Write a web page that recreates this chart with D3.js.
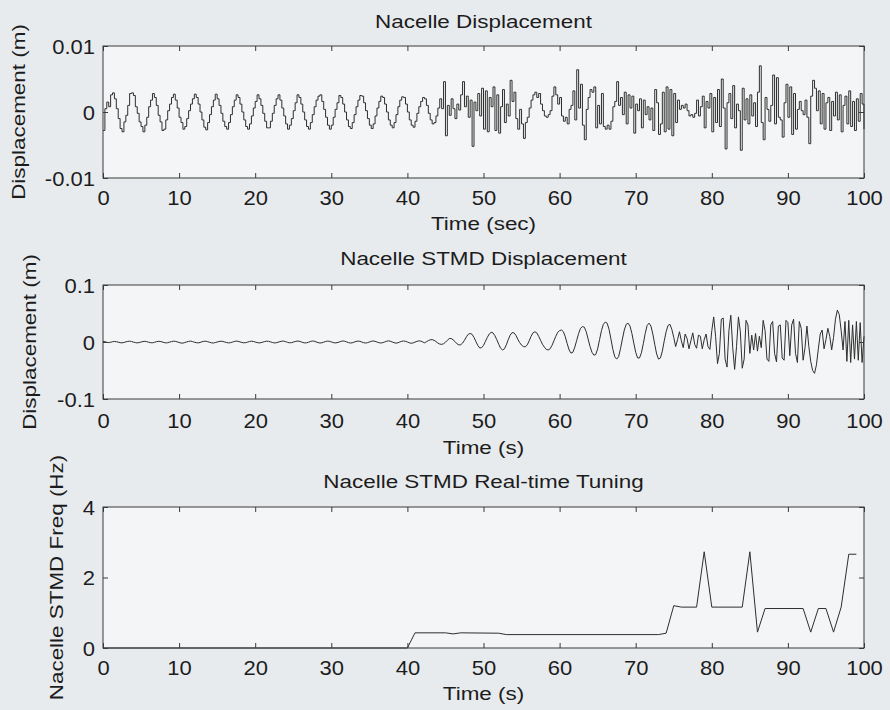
<!DOCTYPE html>
<html>
<head>
<meta charset="utf-8">
<script src="https://cdn.jsdelivr.net/npm/d3@7"></script>
<style>
  html, body { margin: 0; padding: 0; background: #e8ebee; }
  svg { display: block; }
  text { font-family: "Liberation Sans", Arial, Helvetica, sans-serif; fill: #1c1c1c; }
</style>
</head>
<body>
<svg id="chart" width="890" height="710"></svg>
<script>
// ---- data -----------------------------------------------------------------
// Sample interval of the two displacement records (s)
const timeStep = 0.25;

// Nacelle displacement (mm), one value every 0.25 s from 0 to 100 s
const nacelleDispMm = [
  -2.8, 0.5, 1.5, 0.8, 2.6, 2.9, 2.0, 0.5, -1.0, -2.5, -3.0, -1.5, -0.5, 1.0, 2.8, 2.9, 2.5, 0.8, -0.2, -1.5,
  -2.2, -3.0, -2.0, -0.8, 0.8, 1.8, 2.8, 2.2, 1.0, -0.5, -1.5, -2.8, -2.6, -1.2, 0.2, 1.2, 2.2, 2.7, 1.8, 0.6,
  -0.8, -1.6, -2.6, -2.2, -1.0, 0.2, 1.2, 2.0, 2.7, 2.2, 1.2, 0.0, -1.2, -2.3, -2.7, -1.6, -0.4, 0.8, 1.8, 2.7,
  2.0, 1.0, -0.2, -1.4, -2.2, -2.6, -1.6, -0.4, 0.8, 1.8, 2.6, 2.2, 1.2, 0.0, -1.2, -2.2, -2.6, -1.8, -0.6, 0.6,
  1.6, 2.6, 2.0, 1.0, -0.2, -1.4, -2.4, -2.4, -1.4, -0.2, 1.0, 2.0, 2.6, 1.8, 0.6, -0.6, -1.8, -2.6, -2.0, -1.0,
  0.2, 1.4, 2.6, 2.2, 1.2, 0.0, -1.2, -2.2, -2.6, -1.6, -0.4, 0.8, 1.8, 2.4, 2.6, 1.6, 0.4, -0.8, -2.0, -2.6,
  -2.0, -0.8, 0.4, 1.4, 2.5, 2.2, 1.2, 0.0, -1.2, -2.2, -2.5, -1.6, -0.4, 0.8, 1.8, 2.5, 2.4, 1.4, 0.2, -1.0,
  -2.0, -2.5, -1.8, -0.6, 0.6, 1.6, 2.4, 2.2, 1.2, 0.0, -1.2, -2.0, -2.4, -1.6, -0.4, 0.8, 1.8, 2.3, 2.2, 1.2,
  0.0, -1.2, -2.0, -2.3, -1.4, -0.2, 0.8, 1.6, 2.2, 2.0, 1.0, -0.2, -1.2, -1.8, -1.6, -0.6, 0.6, 2.0, 0.5, 4.6,
  -3.6, 1.0, -0.5, 2.0, 0.5, -1.0, 1.2, 0.3, 2.6, 4.6, 0.8, 2.4, -0.8, 1.8, -5.2, 1.5, 0.2, 2.8, -0.6, 3.6,
  -2.6, 3.2, -3.0, 2.2, 0.8, 3.8, -2.8, 2.6, -3.2, 0.8, 3.4, -1.6, 1.2, -0.6, 4.8, 1.6, 3.0, -1.0, -2.6, 0.4,
  -1.8, -4.0, -1.6, -0.8, 0.6, 1.8, 2.6, 3.0, 2.2, 2.8, 1.2, 0.2, -0.6, -0.8, -0.4, 0.2, 2.4, 3.8, 2.6, 1.2,
  2.2, -0.6, -1.4, -0.8, -1.8, 0.4, 1.0, 3.2, -1.2, 6.4, 0.6, 4.2, -2.0, -4.2, 0.4, 2.2, 3.4, 3.0, 3.8, -2.4,
  1.0, -1.8, 2.8, -2.2, -2.6, -2.0, -2.6, -1.4, 0.8, 1.6, 4.6, 1.0, 2.2, -0.4, 3.0, -1.8, 2.6, 0.6, 2.4, -3.2,
  1.2, 0.2, 2.0, -2.4, 1.8, -0.4, 0.8, -1.2, 0.6, -2.8, 3.4, 1.4, -3.4, -1.8, 3.0, -3.0, 3.8, -2.6, 3.4, -3.6,
  2.8, -1.6, 1.8, 0.4, 1.0, 0.6, 1.2, 0.2, -0.6, -0.4, -0.8, -0.2, 1.8, -0.6, 0.8, 2.4, -2.4, 1.6, 0.6, 2.8,
  -3.0, 2.2, -1.6, 3.4, -2.2, 5.0, 0.6, -5.6, 1.4, 2.8, -1.0, 4.0, -2.4, 1.2, 0.2, -5.8, 3.6, -1.2, 2.0, -1.8,
  2.6, -0.6, 1.4, -2.2, 3.0, 7.0, -1.6, -4.2, 2.2, 0.4, -1.4, 1.0, 5.6, -1.8, 5.2, -0.8, -1.2, -3.8, 1.4, 4.2,
  -0.8, 3.8, -3.4, 2.8, -2.6, 0.4, 1.6, 0.2, -0.4, 1.8, -0.8, -4.8, 2.4, 4.8, 3.6, 0.2, 3.2, -1.8, 2.8, -2.6,
  1.4, 2.2, -2.8, 1.6, -0.6, 3.0, -1.2, 2.6, -3.0, 1.0, 2.4, -1.8, 3.2, -2.2, 1.6, -2.8, 2.0, -1.4, 2.8, 1.2, -2.6
];

// Nacelle STMD displacement (mm), one value every 0.25 s from 0 to 100 s
const stmdDispMm = [
  1.0, 0.5, -0.5, -1.0, -0.5, 0.5, 1.0, 0.5, -0.2, -1.2, -1.5, -0.8, 0.2, 1.0, 1.4, 0.8, -0.2, -1.0, -1.6, -1.0,
  0.0, 0.8, 1.2, 0.6, -0.4, -1.2, -1.4, -0.6, 0.4, 1.2, 1.0, 0.2, -0.8, -1.6, -1.2, -0.2, 0.6, 1.4, 1.2, 0.2,
  -0.8, -1.8, -2.0, -1.0, 0.2, 1.0, 1.6, 0.8, -0.4, -1.2, -1.6, -0.8, 0.4, 1.2, 1.4, 0.6, -0.4, -1.4, -1.8, -1.0,
  0.0, 0.8, 1.4, 1.0, 0.0, -1.0, -1.6, -1.2, -0.2, 0.8, 1.6, 1.2, 0.2, -0.8, -1.4, -1.2, -0.2, 0.8, 1.4, 1.0,
  0.0, -1.0, -1.6, -1.2, -0.2, 0.8, 1.4, 1.2, 0.2, -0.8, -1.6, -1.4, -0.4, 0.6, 1.4, 1.6, 0.6, -0.6, -1.4, -1.2,
  -0.2, 0.8, 1.6, 1.4, 0.4, -0.8, -1.6, -1.4, -0.4, 0.8, 1.8, 1.4, 0.2, -1.0, -1.8, -1.4, -0.2, 0.8, 1.6, 1.2,
  0.2, -1.0, -1.6, -1.2, -0.2, 1.0, 1.8, 1.4, 0.2, -1.0, -1.8, -1.4, -0.2, 1.0, 1.6, 1.2, 0.0, -1.2, -1.8, -1.2,
  0.0, 1.2, 1.8, 1.2, 0.0, -1.2, -1.8, -1.2, 0.0, 1.2, 2.0, 1.4, 0.0, -1.2, -2.0, -1.4, 0.0, 1.2, 1.8, 1.2,
  0.0, -1.4, -2.2, -1.6, -0.2, 1.2, 2.0, 1.6, 0.2, -1.4, 0.4, 2.4, 3.8, 4.2, 3.0, 0.8, -1.8, -3.6, -4.2, -3.0,
  -0.5, 3, 6, 6.2, 4, 0.8, -3, -5, -4.8, -2, 3, 9, 13.5, 15, 13.5, 8, 1, -6, -10.5, -10,
  -6, 1, 8, 14, 17, 16, 11, 4, -4, -11, -14, -12, -5, 4, 12, 16.5, 16, 12, 5, -1,
  -5.5, -8, -8.5, -5, 2, 10, 16, 18, 16, 10, 3, -4, -9, -13, -14, -12, -6, 2, 10, 17,
  20, 21, 18, 9, -3, -14, -19.5, -18, -9, 3, 15, 24, 27, 26, 18, 5, -8, -18, -23, -22,
  -12, 4, 20, 31, 35, 33, 22, 5, -13, -26, -30, -26, -12, 5, 21, 31, 33, 28, 15, -2,
  -18, -28, -28, -19, -3, 15, 29, 33, 28, 14, -4, -21, -30, -28, -16, 2, 18, 29, 31, 22,
  8, -8, 4, 18, 2, -10, 14, 6, -12, 2, 16, -4, -11, 12, 10, -12, 4, 14, -8, -13,
  20, 44, 10, -38, -20, 40, 42, -30, -44, 20, 47, -10, -48, -8, 44, 18, -46, -30, 38, 30,
  -20, 12, -14, 15, -16, 10, -10, 38, 20, -30, -34, 30, 36, -20, -35, 28, 30, -28, -32, 38,
  34, -24, 30, 40, -20, -36, 36, 24, -32, -10, 28, -8, -34, -50, -55, -40, -12, 14, 21, -12,
  4, 24, 10, -14, 8, 40, 56, 48, 20, -14, 36, -34, 38, -36, 30, -30, 36, -32, 34, -36, 10
];

// Real-time tuned STMD frequency: breakpoints (s) and values (Hz)
const tuneTime   = [0, 40, 41, 45, 46, 47, 52, 53, 73, 74, 75, 76, 78, 79, 80, 84, 85, 86, 87, 92, 93, 94, 95, 96, 97, 98, 99];
const tuneFreqHz = [0, 0, 0.43, 0.43, 0.40, 0.43, 0.42, 0.38, 0.38, 0.42, 1.20, 1.16, 1.16, 2.73, 1.16, 1.16, 2.73, 0.45, 1.12, 1.12, 0.45, 1.12, 1.12, 0.45, 1.16, 2.66, 2.66];

// Axis ticks and labels
const timeTicks = [0, 10, 20, 30, 40, 50, 60, 70, 80, 90, 100];
const timeTickLabels = ["0", "10", "20", "30", "40", "50", "60", "70", "80", "90", "100"];
const dispTicks = [-0.01, 0, 0.01];
const dispTickLabels = ["-0.01", "0", "0.01"];
const stmdTicks = [-0.1, 0, 0.1];
const stmdTickLabels = ["-0.1", "0", "0.1"];
const freqTicks = [0, 2, 4];
const freqTickLabels = ["0", "2", "4"];

// ---- layout ---------------------------------------------------------------
const svg = d3.select("#chart");
const left = 103, right = 864;
const labelFont = 18.7, labelStretch = 1.2;
const tickFont = 20, tickStretch = 1.1;
const ink = "#3a3a3a";

const panels = [
  {
    top: 46, bottom: 178, domain: [-0.01, 0.01],
    yTicks: dispTicks, yLabels: dispTickLabels,
    title: "Nacelle Displacement", titleY: 28,
    xTitle: "Time (sec)", xTitleY: 230,
    yTitle: "Displacement (m)", yTitleX: 25,
    tickBaseline: 27,
    series: nacelleDispMm.map((v, i) => ({ t: i * timeStep, v: v / 1000 })),
    curve: d3.curveStepAfter
  },
  {
    top: 285, bottom: 399, domain: [-0.1, 0.1],
    yTicks: stmdTicks, yLabels: stmdTickLabels,
    title: "Nacelle STMD Displacement", titleY: 265,
    xTitle: "Time (s)", xTitleY: 454,
    yTitle: "Displacement (m)", yTitleX: 36,
    tickBaseline: 29,
    series: stmdDispMm.map((v, i) => ({ t: i * timeStep, v: v / 1000 })),
    curve: d3.curveLinear
  },
  {
    top: 507, bottom: 648, domain: [0, 4],
    yTicks: freqTicks, yLabels: freqTickLabels,
    title: "Nacelle STMD Real-time Tuning", titleY: 488,
    xTitle: "Time (s)", xTitleY: 700,
    yTitle: "Nacelle STMD Freq (Hz)", yTitleX: 63,
    tickBaseline: 27,
    series: tuneTime.map((t, i) => ({ t, v: tuneFreqHz[i] })),
    curve: d3.curveLinear
  }
];

function label(parent, str, x, y, rotate) {
  return parent.append("text")
    .attr("transform", `translate(${x},${y})${rotate ? " rotate(-90)" : ""} scale(${labelStretch},1)`)
    .attr("text-anchor", "middle")
    .style("font-size", labelFont + "px")
    .text(str);
}

const x = d3.scaleLinear().domain([0, 100]).range([left, right]);

panels.forEach(p => {
  const y = d3.scaleLinear().domain(p.domain).range([p.bottom, p.top]);
  const g = svg.append("g");

  // plot area
  g.append("rect")
    .attr("x", left).attr("y", p.top)
    .attr("width", right - left).attr("height", p.bottom - p.top)
    .attr("fill", "#f4f5f6");

  // data trace
  g.append("path")
    .datum(p.series)
    .attr("fill", "none")
    .attr("stroke", "#2e2e2e")
    .attr("stroke-width", 1)
    .attr("stroke-linejoin", "round")
    .attr("d", d3.line().x(d => x(d.t)).y(d => y(d.v)).curve(p.curve));

  // inward ticks on all four sides
  const styleAxis = sel => {
    sel.select(".domain").remove();
    sel.selectAll(".tick line").attr("stroke", ink);
  };
  const bottomAxis = g.append("g")
    .attr("transform", `translate(0,${p.bottom})`)
    .call(d3.axisBottom(x).tickValues(timeTicks)
      .tickFormat((d, i) => timeTickLabels[i]).tickSize(-5).tickPadding(0))
    .call(styleAxis);
  bottomAxis.selectAll(".tick text")
    .attr("y", null).attr("dy", null)
    .attr("transform", `translate(0,${p.tickBaseline}) scale(${tickStretch},1)`)
    .style("font-size", tickFont + "px").style("font-family", null).attr("fill", "#1c1c1c");

  g.append("g")
    .attr("transform", `translate(0,${p.top})`)
    .call(d3.axisTop(x).tickValues(timeTicks).tickFormat("").tickSize(-5))
    .call(styleAxis);

  const leftAxis = g.append("g")
    .attr("transform", `translate(${left},0)`)
    .call(d3.axisLeft(y).tickValues(p.yTicks)
      .tickFormat((d, i) => p.yLabels[i]).tickSize(-5).tickPadding(0))
    .call(styleAxis);
  leftAxis.selectAll(".tick text")
    .attr("x", null).attr("dy", null)
    .attr("transform", `translate(-8,7) scale(${tickStretch},1)`)
    .style("font-size", tickFont + "px").style("font-family", null).attr("fill", "#1c1c1c");

  g.append("g")
    .attr("transform", `translate(${right},0)`)
    .call(d3.axisRight(y).tickValues(p.yTicks).tickFormat("").tickSize(-5))
    .call(styleAxis);

  // frame
  g.append("rect")
    .attr("x", left).attr("y", p.top)
    .attr("width", right - left).attr("height", p.bottom - p.top)
    .attr("fill", "none").attr("stroke", ink).attr("stroke-width", 1);

  // titles
  const mid = (left + right) / 2;
  label(svg, p.title, mid, p.titleY, false);
  label(svg, p.xTitle, mid, p.xTitleY, false);
  label(svg, p.yTitle, p.yTitleX, (p.top + p.bottom) / 2, true);
});
</script>
</body>
</html>
